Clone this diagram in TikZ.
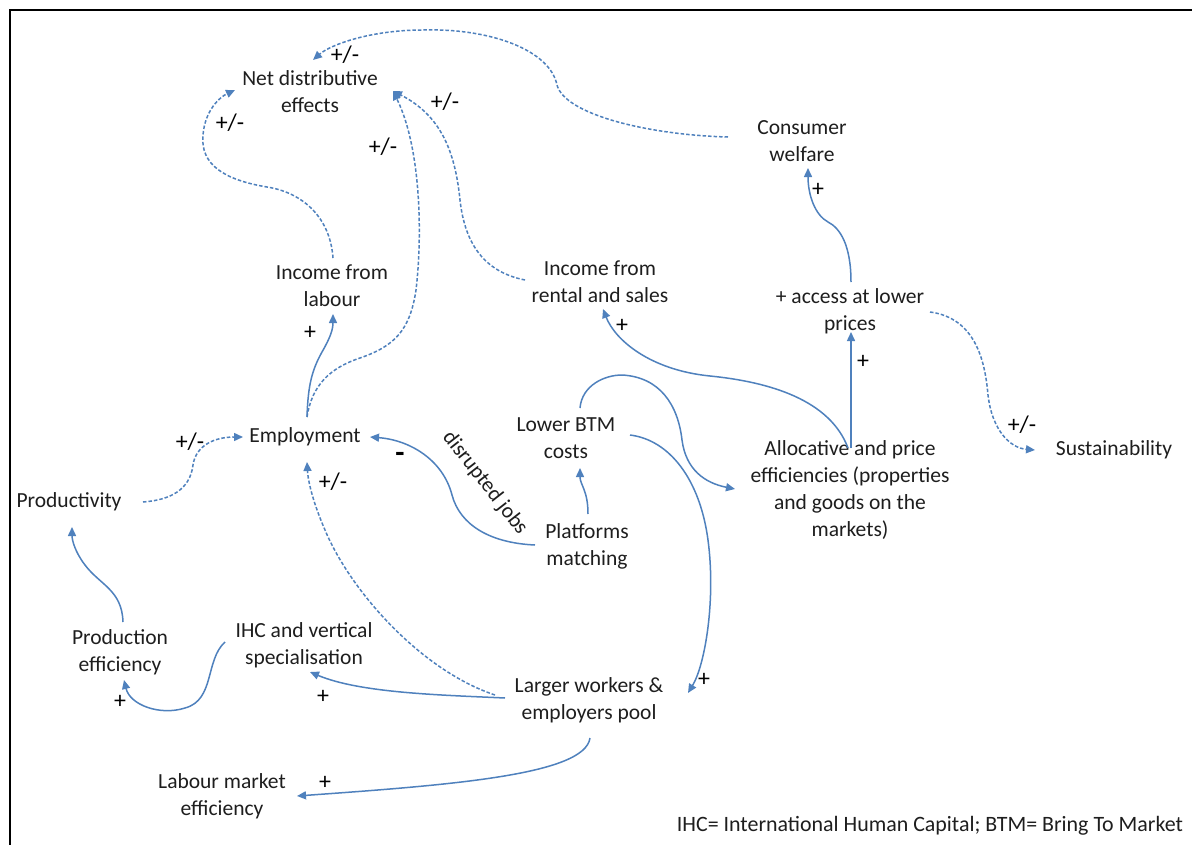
\documentclass[tikz,border=0pt]{standalone}
\usepackage{fontspec}
\setmainfont{Carlito}
\usetikzlibrary{arrows.meta}
\definecolor{linkblue}{RGB}{79,129,189}
\definecolor{txt}{RGB}{30,30,30}
\tikzset{
  lbl/.style={inner sep=0pt, align=center, text=txt, font=\fontsize{21.6}{27}\selectfont},
  sgn/.style={inner sep=0pt, text=black, font=\fontsize{24}{28}\selectfont},
  conn/.style={draw=linkblue, line width=1.5bp, -{Triangle[length=9bp,width=8bp]}},
  dconn/.style={conn, dash pattern=on 3.5bp off 2bp},
}
\begin{document}
\begin{tikzpicture}[x=1bp,y=-1bp]
\useasboundingbox (0,0) rectangle (1192,845);
\fill[white] (0,0) rectangle (1192,845);
\draw[black, line width=2.2bp] (10,845) -- (10,10) -- (1192,10);

% nodes
\node[lbl] (ned) at (310,92) {Net distributive\\effects};
\node[lbl] (cw) at (802,141) {Consumer\\welfare};
\node[lbl] (il) at (332,286) {Income from\\labour};
\node[lbl] (ir) at (600,282) {Income from\\rental and sales};
\node[lbl] (acc) at (850,311) {+ access at lower\\prices};
\node[lbl] (emp) at (305,437) {Employment};
\node[lbl] (btm) at (566,438) {Lower BTM\\costs};
\node[lbl] (alloc) at (850,490) {Allocative and price\\efficiencies (properties\\and goods on the\\markets)};
\node[lbl] (sus) at (1114,450) {Sustainability};
\node[lbl] (prod) at (69,502) {Productivity};
\node[lbl] (plat) at (587,546) {Platforms\\matching};
\node[lbl] (pe) at (120,652) {Production\\efficiency};
\node[lbl] (ihc) at (304,645) {IHC and vertical\\specialisation};
\node[lbl] (lw) at (589,700) {Larger workers \&\\employers pool};
\node[lbl] (lme) at (222,796) {Labour market\\efficiency};
\node[lbl, font=\fontsize{22}{26}\selectfont] (foot) at (930,826) {IHC=\ International Human Capital; BTM= Bring To Market};

% connectors
\draw[dconn] ([shift={(-74,-4)}]cw.center) .. controls (650,135) and (565,115) .. (557,85)
  .. controls (550,50) and (490,28) .. (423,30) .. controls (370,30) and (330,45) .. ([shift={(3,-32)}]ned.center);
\node[sgn] (s1) at (345,55) {+/-};

\draw[dconn] ([shift={(1,-28)}]il.center) .. controls (330,215) and (300,192) .. (267,187)
  .. controls (225,180) and (200,165) .. (203,135) .. controls (205,110) and (220,97) .. ([shift={(-75,-2)}]ned.center);
\node[sgn] (s2) at (230,123) {+/-};

\draw[conn] ([shift={(2,-20)}]emp.center) .. controls (308,385) and (312,370) .. (322,352)
  .. controls (330,338) and (333,330) .. ([shift={(1,28)}]il.center);
\node[sgn] (s3) at (310,333) {+};

\draw[dconn] ([shift={(2,-20)}]emp.center) .. controls (312,385) and (330,368) .. (360,358)
  .. controls (395,346) and (410,330) .. (416,290) .. controls (422,240) and (422,150) .. ([shift={(83,-1)}]ned.center);
\node[sgn] (s4) at (383,147) {+/-};

\draw[dconn] ([shift={(-75,-2)}]ir.center) .. controls (485,272) and (465,245) .. (460,200)
  .. controls (455,150) and (440,115) .. ([shift={(83,-1)}]ned.center);
\node[sgn] (s5) at (445,102) {+/-};

\draw[conn] ([shift={(-2,-42)}]alloc.center) .. controls (830,400) and (770,382) .. (710,376)
  .. controls (650,370) and (615,340) .. ([shift={(3,27)}]ir.center);
\node[sgn] (s6) at (622,326) {+};

\draw[conn] ([shift={(1,-42)}]alloc.center) -- ([shift={(1,21)}]acc.center);
\node[sgn] (s7) at (863,362) {+};

\draw[conn] ([shift={(1,-29)}]acc.center) .. controls (851,245) and (840,228) .. (828,222)
  .. controls (815,215) and (808,195) .. ([shift={(6,27)}]cw.center);
\node[sgn] (s8) at (818,190) {+};

\draw[dconn] ([shift={(80,1)}]acc.center) .. controls (975,318) and (985,360) .. (988,395)
  .. controls (992,430) and (1010,448) .. ([shift={(-79,0)}]sus.center);
\node[sgn] (s9) at (1022,425) {+/-};

\draw[conn] ([shift={(14,-30)}]btm.center) .. controls (582,385) and (605,375) .. (622,375)
  .. controls (660,377) and (678,405) .. (682,440) .. controls (686,470) and (705,483) .. ([shift={(-115,-1)}]alloc.center);

\draw[conn] ([shift={(64,-3)}]btm.center) .. controls (670,440) and (700,480) .. (708,540)
  .. controls (716,600) and (705,665) .. ([shift={(99,-7)}]lw.center);
\node[sgn] (s10) at (704,680) {+};

\draw[conn] ([shift={(1,-32)}]plat.center) .. controls (588,490) and (580,485) .. ([shift={(14,30)}]btm.center);

\draw[conn] ([shift={(-52,-1)}]plat.center) .. controls (490,543) and (460,525) .. (452,495)
  .. controls (443,460) and (410,440) .. ([shift={(65,0)}]emp.center);
\node[lbl, rotate=-52] (dj) at (485,483) {disrupted jobs};
\node[sgn, font=\bfseries\fontsize{30}{30}\selectfont] (s11) at (400,457) {-};

\draw[dconn] ([shift={(-94,-5)}]lw.center) .. controls (420,670) and (350,590) .. (325,530)
  .. controls (312,500) and (308,480) .. ([shift={(2,25)}]emp.center);
\node[sgn] (s12) at (333,482) {+/-};

\draw[conn] ([shift={(-84,-2)}]lw.center) .. controls (440,695) and (360,693) .. ([shift={(6,27)}]ihc.center);
\node[sgn] (s13) at (323,697) {+};

\draw[conn] ([shift={(-79,-3)}]ihc.center) .. controls (205,660) and (215,700) .. (185,708)
  .. controls (160,716) and (130,705) .. ([shift={(4,28)}]pe.center);
\node[sgn] (s14) at (120,702) {+};

\draw[conn] ([shift={(3,-30)}]pe.center) .. controls (122,590) and (100,585) .. (85,565)
  .. controls (75,552) and (72,540) .. ([shift={(3,25)}]prod.center);

\draw[dconn] ([shift={(74,0)}]prod.center) .. controls (170,500) and (190,490) .. (193,465)
  .. controls (196,445) and (215,437) .. ([shift={(-62,0)}]emp.center);
\node[sgn] (s15) at (190,442) {+/-};

\draw[conn] ([shift={(1,38)}]lw.center) .. controls (585,775) and (450,785) .. ([shift={(75,0)}]lme.center);
\node[sgn] (s16) at (325,783) {+};
\end{tikzpicture}
\end{document}
